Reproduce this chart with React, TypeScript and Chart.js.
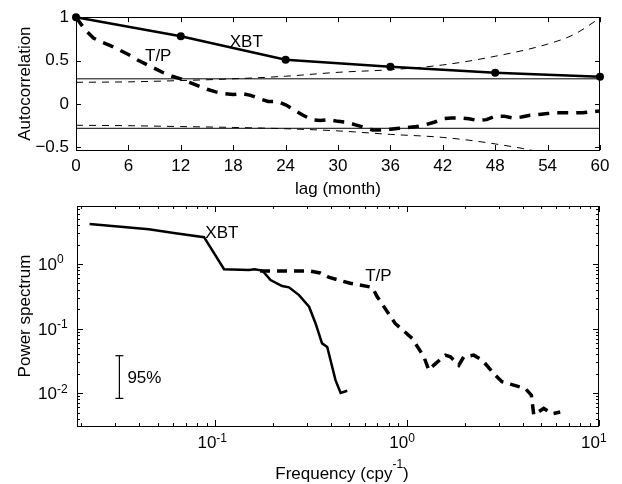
import React, { useEffect, useRef } from 'react';
import { Chart, registerables } from 'chart.js';

Chart.register(...registerables);

const FONT = "'Liberation Sans', Arial, Helvetica, sans-serif";
const INK = '#000';

// ---------- Top panel: autocorrelation ----------
const LAG_MONTHS = [
  0, 1, 2, 3, 4, 5, 6, 7, 8, 9, 10, 11, 12, 13, 14, 15, 16, 17, 18, 19, 20,
  21, 22, 23, 24, 25, 26, 27, 28, 29, 30, 31, 32, 33, 34, 35, 36, 37, 38, 39, 40,
  41, 42, 43, 44, 45, 46, 47, 48, 49, 50, 51, 52, 53, 54, 55, 56, 57, 58, 59, 60,
];
const TP_AUTOCORR = [
  1.0, 0.86, 0.76, 0.71, 0.67, 0.62, 0.57, 0.51, 0.46, 0.41, 0.36, 0.32, 0.29, 0.25, 0.21, 0.17,
  0.14, 0.12, 0.11, 0.12, 0.1, 0.06, 0.03, 0.03, -0.01, -0.07, -0.13, -0.18, -0.19, -0.18, -0.2,
  -0.21, -0.24, -0.27, -0.3, -0.3, -0.29, -0.28, -0.27, -0.26, -0.24, -0.21, -0.17, -0.16, -0.16,
  -0.17, -0.19, -0.18, -0.14, -0.14, -0.16, -0.15, -0.13, -0.12, -0.11, -0.1, -0.1, -0.1, -0.1,
  -0.09, -0.08,
];
const XBT_LAGS = [0, 12, 24, 36, 48, 60];
const XBT_AUTOCORR = [1.0, 0.78, 0.51, 0.43, 0.36, 0.315];
const CONF_LAGS = [0, 6, 12, 18, 24, 30, 36, 42, 48, 54, 57, 60];
const CONF_UPPER = [0.25, 0.255, 0.27, 0.29, 0.32, 0.365, 0.395, 0.45, 0.55, 0.69, 0.8, 0.99];
const CONF_LOWER = [-0.245, -0.25, -0.26, -0.27, -0.285, -0.31, -0.35, -0.385, -0.46, -0.58, -0.7, -0.85];
const SIG_LAGS = [0, 60];
const SIG_UPPER = [0.29, 0.29];
const SIG_LOWER = [-0.28, -0.28];
const LAG_TICKS = [0, 6, 12, 18, 24, 30, 36, 42, 48, 54, 60];
const ACF_TICKS = [-0.5, 0, 0.5, 1];
const ACF_TICK_LABELS = ['\u22120.5', '0', '0.5', '1'];

// ---------- Bottom panel: power spectrum ----------
const XBT_FREQ = [0.0221, 0.045, 0.062, 0.0873, 0.111, 0.15, 0.16, 0.176, 0.194, 0.223, 0.242, 0.273, 0.308, 0.333, 0.36, 0.383, 0.423, 0.45, 0.487];
const XBT_POWER = [4.17, 3.45, 3.0, 2.6, 0.83, 0.81, 0.83, 0.79, 0.565, 0.456, 0.435, 0.33, 0.218, 0.12, 0.059, 0.052, 0.0159, 0.0101, 0.0109];
const TP_FREQ = [0.171, 0.309, 0.352, 0.393, 0.505, 0.658, 0.698, 0.866, 1.062, 1.222, 1.297, 1.377, 1.583, 1.681, 1.858, 1.972, 2.223, 2.46, 2.88, 3.12, 3.59, 4.13, 4.44, 4.57, 5.15, 5.69, 6.28];
const TP_POWER = [0.779, 0.779, 0.725, 0.618, 0.502, 0.435, 0.311, 0.12, 0.0705, 0.0366, 0.0227, 0.0272, 0.0388, 0.0365, 0.0272, 0.0365, 0.0388, 0.0325, 0.019, 0.015, 0.0133, 0.0118, 0.0093, 0.0046, 0.0058, 0.0048, 0.0051];
const CI_FREQ = [0.0316, 0.0316];
const CI_POWER = [0.038, 0.0083];
const FREQ_MAJOR_EXP = [-1, 0, 1];
const POWER_MAJOR_EXP = [-2, -1, 0];

const pts = (xs: number[], ys: number[]) => xs.map((x, i) => ({ x, y: ys[i] }));

function crisp(v: number) {
  return Math.round(v) + 0.5;
}

function logTickValues(min: number, max: number) {
  const out: { v: number; major: boolean }[] = [];
  for (let e = Math.floor(Math.log10(min)); e <= Math.ceil(Math.log10(max)); e++) {
    for (let m = 1; m <= 9; m++) {
      const v = m * Math.pow(10, e);
      if (v >= min * 0.999 && v <= max * 1.001) out.push({ v, major: m === 1 });
    }
  }
  return out;
}

const topPlugin = {
  id: 'topFrame',
  afterDraw(chart: any) {
    const { ctx, chartArea: a, scales } = chart;
    const x = scales.x;
    const y = scales.y;
    ctx.save();
    ctx.strokeStyle = INK;
    ctx.lineWidth = 1;
    ctx.strokeRect(crisp(a.left), crisp(a.top), Math.round(a.right - a.left) - 1, Math.round(a.bottom - a.top));
    ctx.beginPath();
    const L = 5;
    LAG_TICKS.forEach((v) => {
      const px = crisp(x.getPixelForValue(v));
      ctx.moveTo(px, a.bottom);
      ctx.lineTo(px, a.bottom - L);
      ctx.moveTo(px, a.top);
      ctx.lineTo(px, a.top + L);
    });
    ACF_TICKS.forEach((v) => {
      const py = crisp(y.getPixelForValue(v));
      ctx.moveTo(a.left, py);
      ctx.lineTo(a.left + L, py);
      ctx.moveTo(a.right, py);
      ctx.lineTo(a.right - L, py);
    });
    ctx.stroke();
    ctx.fillStyle = INK;
    ctx.font = `17px ${FONT}`;
    ctx.textAlign = 'left';
    ctx.textBaseline = 'middle';
    ctx.fillText('XBT', x.getPixelForValue(17.6), y.getPixelForValue(0.71));
    ctx.fillText('T/P', x.getPixelForValue(7.9), y.getPixelForValue(0.545));
    ctx.restore();
  },
};

const bottomPlugin = {
  id: 'bottomFrame',
  afterDraw(chart: any) {
    const { ctx, chartArea: a, scales } = chart;
    const x = scales.x;
    const y = scales.y;
    ctx.save();
    ctx.strokeStyle = INK;
    ctx.lineWidth = 1;
    ctx.strokeRect(crisp(a.left), crisp(a.top), Math.round(a.right - a.left) - 1, Math.round(a.bottom - a.top));
    ctx.beginPath();
    logTickValues(x.min, x.max).forEach(({ v, major }) => {
      const L = major ? 6 : 3;
      const px = crisp(x.getPixelForValue(v));
      ctx.moveTo(px, a.bottom);
      ctx.lineTo(px, a.bottom - L);
      ctx.moveTo(px, a.top);
      ctx.lineTo(px, a.top + L);
    });
    logTickValues(y.min, y.max).forEach(({ v, major }) => {
      const L = major ? 6 : 3;
      const py = crisp(y.getPixelForValue(v));
      ctx.moveTo(a.left, py);
      ctx.lineTo(a.left + L, py);
      ctx.moveTo(a.right, py);
      ctx.lineTo(a.right - L, py);
    });
    ctx.stroke();

    ctx.fillStyle = INK;
    const pow = (xr: number, base: number, exp: number) => {
      ctx.textBaseline = 'alphabetic';
      ctx.font = `17px ${FONT}`;
      ctx.textAlign = 'right';
      ctx.fillText('10', xr, base);
      ctx.font = `12px ${FONT}`;
      ctx.textAlign = 'left';
      ctx.fillText(String(exp), xr, base - 6.5);
    };
    FREQ_MAJOR_EXP.forEach((e) => {
      const px = x.getPixelForValue(Math.pow(10, e));
      pow(px + 1, a.bottom + 22, e);
    });
    POWER_MAJOR_EXP.forEach((e) => {
      const py = y.getPixelForValue(Math.pow(10, e));
      pow(a.left - 20, py + 6, e);
    });

    // x-axis title with superscript
    ctx.textBaseline = 'alphabetic';
    ctx.textAlign = 'left';
    ctx.font = `17px ${FONT}`;
    const t1 = 'Frequency (cpy';
    const t3 = ')';
    const w1 = ctx.measureText(t1).width;
    const w3 = ctx.measureText(t3).width;
    ctx.font = `12px ${FONT}`;
    const w2 = ctx.measureText('-1').width;
    const total = w1 + w2 + w3;
    const cx = (a.left + a.right) / 2 + 4;
    const base = a.bottom + 53;
    let xx = cx - total / 2;
    ctx.font = `17px ${FONT}`;
    ctx.fillText(t1, xx, base);
    xx += w1;
    ctx.font = `12px ${FONT}`;
    ctx.fillText('-1', xx, base - 11);
    xx += w2;
    ctx.font = `17px ${FONT}`;
    ctx.fillText(t3, xx, base);

    // annotations
    ctx.textBaseline = 'middle';
    ctx.fillText('XBT', x.getPixelForValue(0.0887), y.getPixelForValue(3.0));
    ctx.fillText('T/P', x.getPixelForValue(0.604), y.getPixelForValue(0.64));
    const ciMid = (y.getPixelForValue(CI_POWER[0]) + y.getPixelForValue(CI_POWER[1])) / 2;
    ctx.fillText('95%', x.getPixelForValue(CI_FREQ[0]) + 8, ciMid + 1);
    ctx.restore();
  },
};

function TopPanel() {
  const ref = useRef<HTMLCanvasElement | null>(null);
  useEffect(() => {
    if (!ref.current) return;
    const chart = new Chart(ref.current, {
      type: 'line',
      data: {
        datasets: [
          { data: pts(SIG_LAGS, SIG_UPPER), borderColor: INK, borderWidth: 1, pointRadius: 0 },
          { data: pts(SIG_LAGS, SIG_LOWER), borderColor: INK, borderWidth: 1, pointRadius: 0 },
          { data: pts(CONF_LAGS, CONF_UPPER), borderColor: INK, borderWidth: 1, borderDash: [7, 6], pointRadius: 0, cubicInterpolationMode: 'monotone' },
          { data: pts(CONF_LAGS, CONF_LOWER), borderColor: INK, borderWidth: 1, borderDash: [7, 6], pointRadius: 0, cubicInterpolationMode: 'monotone' },
          { data: pts(LAG_MONTHS, TP_AUTOCORR), borderColor: INK, borderWidth: 3.5, borderDash: [11, 8], pointRadius: 0 },
          {
            data: pts(XBT_LAGS, XBT_AUTOCORR),
            borderColor: INK,
            borderWidth: 2.5,
            pointRadius: 4,
            pointBackgroundColor: INK,
            pointBorderWidth: 0,
            clip: false,
          },
        ],
      } as any,
      options: {
        animation: false,
        responsive: false,
        devicePixelRatio: 1,
        layout: { padding: { top: 14, right: 22, left: 0, bottom: 0 } },
        plugins: { legend: { display: false }, tooltip: { enabled: false } },
        scales: {
          x: {
            type: 'linear',
            min: 0,
            max: 60,
            afterBuildTicks: (s: any) => {
              s.ticks = LAG_TICKS.map((v) => ({ value: v }));
            },
            afterFit: (s: any) => {
              s.height = 50;
            },
            grid: { display: false, drawTicks: false },
            border: { display: false },
            ticks: { padding: 6, color: INK, font: { family: FONT, size: 17 }, maxRotation: 0, autoSkip: false },
            title: { display: true, text: 'lag (month)', color: INK, font: { family: FONT, size: 17 }, padding: { top: 0, bottom: 0 } },
          },
          y: {
            type: 'linear',
            min: -0.53,
            max: 1,
            afterBuildTicks: (s: any) => {
              s.ticks = ACF_TICKS.map((v) => ({ value: v }));
            },
            afterFit: (s: any) => {
              s.width = 76;
            },
            grid: { display: false, drawTicks: false },
            border: { display: false },
            ticks: {
              padding: 7,
              color: INK,
              font: { family: FONT, size: 17 },
              callback: (v: any) => ACF_TICK_LABELS[ACF_TICKS.indexOf(Number(v))] ?? String(v),
            },
            title: { display: true, text: 'Autocorrelation', color: INK, font: { family: FONT, size: 17 }, padding: { top: 15, bottom: 0 } },
          },
        },
      } as any,
      plugins: [topPlugin],
    });
    return () => chart.destroy();
  }, []);
  return <canvas ref={ref} width={622} height={200} style={{ position: 'absolute', left: 0, top: 0, width: 622, height: 200 }} />;
}

function BottomPanel() {
  const ref = useRef<HTMLCanvasElement | null>(null);
  useEffect(() => {
    if (!ref.current) return;
    const chart = new Chart(ref.current, {
      type: 'line',
      data: {
        datasets: [
          { data: pts(XBT_FREQ, XBT_POWER), borderColor: INK, borderWidth: 2.5, pointRadius: 0 },
          { data: pts(TP_FREQ, TP_POWER), borderColor: INK, borderWidth: 3.5, borderDash: [10, 7], pointRadius: 0 },
          {
            data: pts(CI_FREQ, CI_POWER),
            borderColor: INK,
            borderWidth: 1.2,
            pointStyle: 'line',
            pointRadius: 4,
            pointBorderWidth: 1.2,
            pointBorderColor: INK,
          },
        ],
      } as any,
      options: {
        animation: false,
        responsive: false,
        devicePixelRatio: 1,
        layout: { padding: { top: 6, right: 23, left: 0, bottom: 0 } },
        plugins: { legend: { display: false }, tooltip: { enabled: false } },
        scales: {
          x: {
            type: 'logarithmic',
            min: 0.019,
            max: 10,
            afterFit: (s: any) => {
              s.height = 58;
            },
            grid: { display: false, drawTicks: false },
            border: { display: false },
            ticks: { display: false },
          },
          y: {
            type: 'logarithmic',
            min: 0.0031,
            max: 7.9,
            afterFit: (s: any) => {
              s.width = 77;
            },
            grid: { display: false, drawTicks: false },
            border: { display: false },
            ticks: { display: false },
            title: { display: true, text: 'Power spectrum', color: INK, font: { family: FONT, size: 17 }, padding: { top: 15, bottom: 0 } },
          },
        },
      } as any,
      plugins: [bottomPlugin],
    });
    return () => chart.destroy();
  }, []);
  return <canvas ref={ref} width={622} height={284} style={{ position: 'absolute', left: 0, top: 200, width: 622, height: 284 }} />;
}

export default function App() {
  return (
    <div style={{ position: 'fixed', left: 0, top: 0, width: 622, height: 484, background: '#fff' }}>
      <TopPanel />
      <BottomPanel />
    </div>
  );
}
